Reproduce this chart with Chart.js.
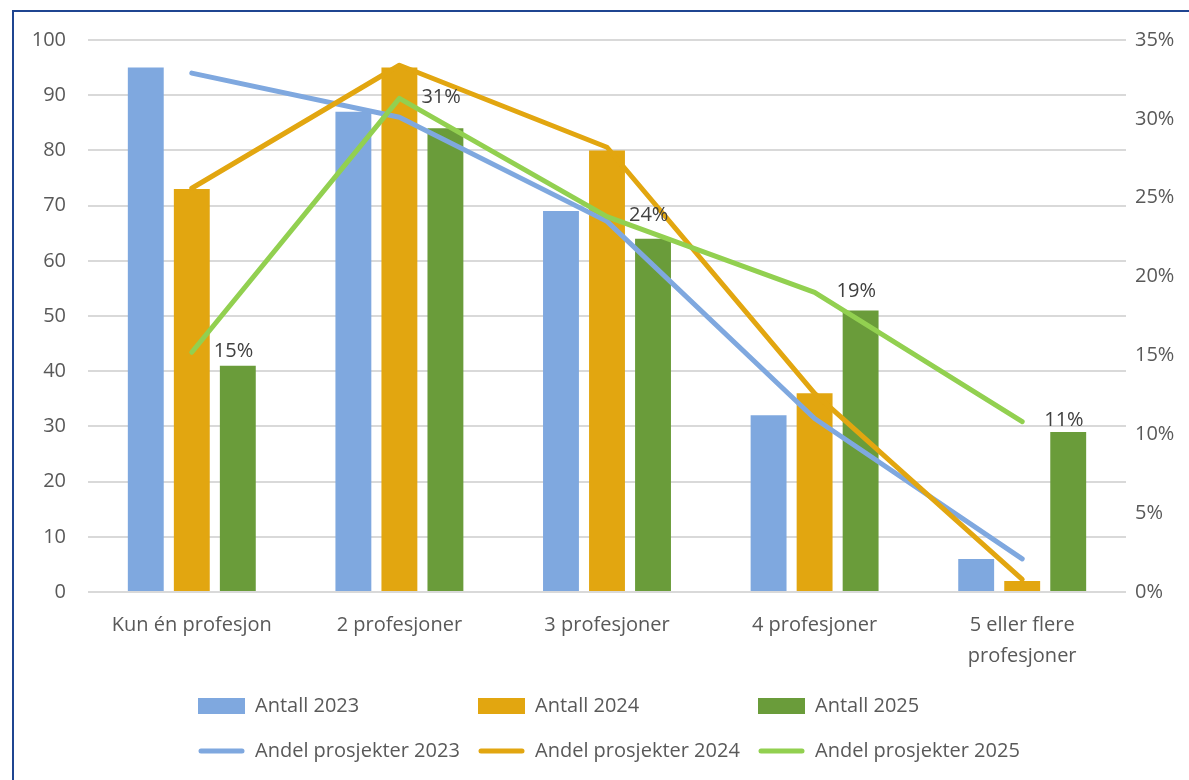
<!DOCTYPE html>
<html>
<head>
<meta charset="utf-8">
<script src="https://cdn.jsdelivr.net/npm/chart.js@4"></script>
<style>
    body { margin: 0; background: #fff; overflow: hidden; }
    #frame { position: absolute; left: 12px; top: 10px; width: 1200px; height: 800px; border: 2px solid #1F4591; }
    #container { position: absolute; left: 0; top: 0; width: 1189px; height: 780px; }
</style>
</head>
<body>
<div id="frame"></div>
<div id="container"><canvas id="chart"></canvas></div>
<script>
const categories = ['Kun én profesjon', '2 profesjoner', '3 profesjoner', '4 profesjoner', ['5 eller flere', 'profesjoner']];

const antall2023 = [95, 87, 69, 32, 6];
const antall2024 = [73, 95, 80, 36, 2];
const antall2025 = [41, 84, 64, 51, 29];

// andel prosjekter, in percent
const andel2023 = [32.9, 30.1, 23.5, 11.0, 2.1];
const andel2024 = [25.6, 33.4, 28.2, 12.6, 0.8];
const andel2025 = [15.2, 31.3, 23.8, 19.0, 10.8];
const andel2025Labels = ['15%', '31%', '24%', '19%', '11%'];

const blue = '#7FA8DF',
    gold = '#E2A610',
    green = '#6A9C3A',
    lightGreen = '#92D050';

const FONT = '"Open Sans", sans-serif';

const legendItems = [
    { label: 'Antall 2023', color: blue, type: 'box' },
    { label: 'Antall 2024', color: gold, type: 'box' },
    { label: 'Antall 2025', color: green, type: 'box' },
    { label: 'Andel prosjekter 2023', color: blue, type: 'line' },
    { label: 'Andel prosjekter 2024', color: gold, type: 'line' },
    { label: 'Andel prosjekter 2025', color: lightGreen, type: 'line' }
];

const lineLabels = {
    id: 'lineLabels',
    afterDatasetsDraw(chart) {
        const ctx = chart.ctx;
        const meta = chart.getDatasetMeta(5);
        ctx.save();
        ctx.font = '20px ' + FONT;
        ctx.fillStyle = '#404040';
        ctx.textAlign = 'left';
        ctx.textBaseline = 'middle';
        meta.data.forEach((point, i) => {
            ctx.fillText(andel2025Labels[i], point.x + 22, point.y - 1);
        });
        ctx.restore();
    }
};

const customLegend = {
    id: 'customLegend',
    afterDraw(chart) {
        const ctx = chart.ctx;
        const top = chart.chartArea.bottom;
        ctx.save();
        ctx.font = '20px ' + FONT;
        ctx.textBaseline = 'middle';
        ctx.textAlign = 'left';
        legendItems.forEach((item, i) => {
            const x = 198 + (i % 3) * 280;
            const y = top + 114 + Math.floor(i / 3) * 45;
            if (item.type === 'box') {
                ctx.fillStyle = item.color;
                ctx.fillRect(x, y - 8, 47, 16);
            } else {
                ctx.strokeStyle = item.color;
                ctx.lineWidth = 5;
                ctx.lineCap = 'round';
                ctx.beginPath();
                ctx.moveTo(x + 3, y);
                ctx.lineTo(x + 44, y);
                ctx.stroke();
            }
            ctx.fillStyle = '#595959';
            ctx.fillText(item.label, x + 57, y);
        });
        ctx.restore();
    }
};

const barDefaults = {
    type: 'bar',
    yAxisID: 'y',
    order: 3,
    categoryPercentage: 0.665,
    barPercentage: 0.78
};

const lineDefaults = {
    type: 'line',
    yAxisID: 'y1',
    borderWidth: 5,
    pointRadius: 0,
    borderCapStyle: 'round',
    borderJoinStyle: 'round',
    tension: 0
};

const ctx = document.getElementById('chart').getContext('2d');
const chart = new Chart(ctx, {
    data: {
        labels: categories,
        datasets: [
            { ...barDefaults, label: 'Antall 2023', data: antall2023, backgroundColor: blue },
            { ...barDefaults, label: 'Antall 2024', data: antall2024, backgroundColor: gold },
            { ...barDefaults, label: 'Antall 2025', data: antall2025, backgroundColor: green },
            { ...lineDefaults, label: 'Andel prosjekter 2023', data: andel2023, borderColor: blue, backgroundColor: blue, order: 2 },
            { ...lineDefaults, label: 'Andel prosjekter 2024', data: andel2024, borderColor: gold, backgroundColor: gold, order: 1 },
            { ...lineDefaults, label: 'Andel prosjekter 2025', data: andel2025, borderColor: lightGreen, backgroundColor: lightGreen, order: 0 }
        ]
    },
    options: {
        responsive: true,
        maintainAspectRatio: false,
        animation: false,
        layout: { padding: { top: 40, left: 0, right: 0, bottom: 108 } },
        plugins: {
            legend: { display: false },
            tooltip: { enabled: false }
        },
        scales: {
            x: {
                offset: true,
                grid: { display: false },
                border: { display: false },
                ticks: {
                    color: '#595959',
                    font: { family: FONT, size: 20, lineHeight: 1.55 },
                    maxRotation: 0,
                    autoSkip: false,
                    padding: 10
                },
                afterFit: scale => { scale.height = 80; }
            },
            y: {
                position: 'left',
                min: 0,
                max: 100,
                ticks: {
                    stepSize: 10,
                    color: '#595959',
                    font: { family: FONT, size: 20 },
                    padding: 22
                },
                grid: { color: '#D9D9D9', lineWidth: 2, drawTicks: false },
                border: { display: false },
                afterFit: scale => { scale.width = 88; }
            },
            y1: {
                position: 'right',
                min: 0,
                max: 35,
                ticks: {
                    stepSize: 5,
                    color: '#595959',
                    font: { family: FONT, size: 20 },
                    padding: 9,
                    callback: v => v + '%'
                },
                grid: { drawOnChartArea: false, drawTicks: false },
                border: { display: false },
                afterFit: scale => { scale.width = 63; }
            }
        }
    },
    plugins: [lineLabels, customLegend]
});
</script>
</body>
</html>
